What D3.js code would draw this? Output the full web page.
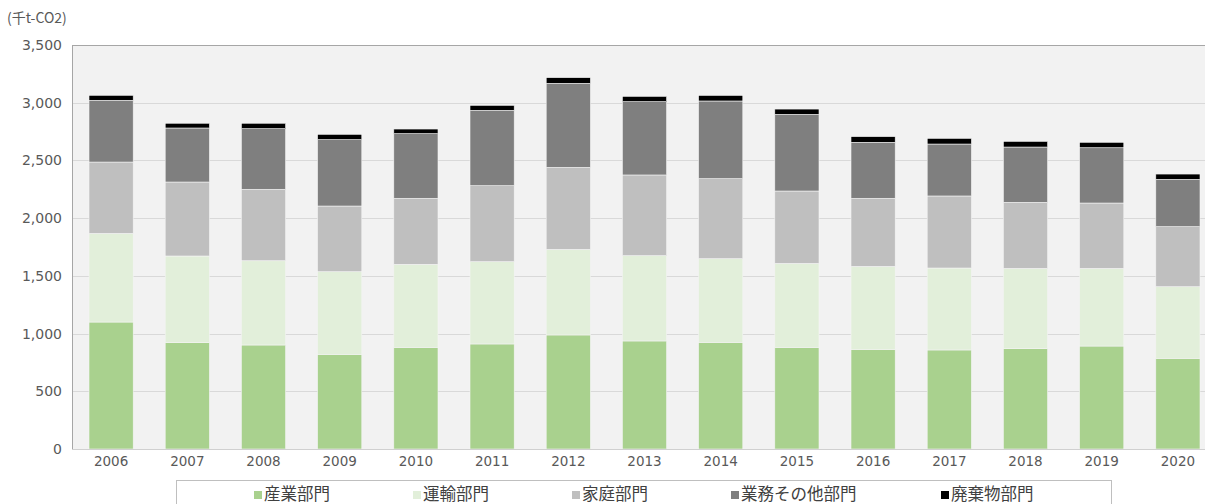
<!DOCTYPE html>
<html><head><meta charset="utf-8">
<script src="https://cdn.jsdelivr.net/npm/d3@7"></script>
<style>
html,body{margin:0;padding:0;background:#fff;overflow:hidden;}
svg{display:block;font-family:"Noto Sans CJK JP","Noto Sans",sans-serif;}
</style></head>
<body>
<svg id="chart" width="1205" height="504"></svg>
<script>
const years = ["2006","2007","2008","2009","2010","2011","2012","2013","2014","2015","2016","2017","2018","2019","2020"];
const seriesNames = ["産業部門","運輸部門","家庭部門","業務その他部門","廃棄物部門"];
const industry  = [1100, 921, 901, 820, 881, 910, 988, 936, 924, 881, 863, 858, 869, 892, 786];
const transport = [ 768, 751, 730, 716, 719, 713, 742, 739, 725, 727, 719, 710, 696, 673, 620];
const household = [ 618, 641, 619, 569, 572, 658, 710, 699, 693, 627, 590, 624, 572, 566, 520];
const business  = [ 535, 468, 525, 575, 560, 653, 728, 635, 673, 664, 485, 450, 479, 479, 410];
const waste     = [  43,  41,  47,  46,  40,  43,  49,  46,  48,  46,  49,  49,  49,  47,  46];
const yTicks = [0, 500, 1000, 1500, 2000, 2500, 3000, 3500];
const colors = ["#a9d18e", "#e2efda", "#bfbfbf", "#7f7f7f", "#000000"];

const table = years.map((y, i) => ({
  year: y, s0: industry[i], s1: transport[i], s2: household[i], s3: business[i], s4: waste[i]
}));
const keys = ["s0","s1","s2","s3","s4"];
const stacked = d3.stack().keys(keys)(table);

const svg = d3.select("#chart");
const pL = 72, pR = 1216, pT = 45, pB = 449;

const x = d3.scaleBand().domain(years).range([pL + 1, pR]).paddingInner(0.42).paddingOuter(0.21);
const y = d3.scaleLinear().domain([0, 3500]).range([pB, pT]);

// plot background
svg.append("rect").attr("x", pL).attr("y", pT).attr("width", pR - pL).attr("height", pB - pT)
  .attr("fill", "#f2f2f2");

// gridlines
svg.append("g").selectAll("line").data(yTicks.filter(t => t > 0)).join("line")
  .attr("x1", pL).attr("x2", pR)
  .attr("y1", d => Math.round(y(d)) + 0.5).attr("y2", d => Math.round(y(d)) + 0.5)
  .attr("stroke", d => d === 3500 ? "#a6a6a6" : "#d9d9d9").attr("stroke-width", 1);

// left border
svg.append("line").attr("x1", pL + 0.5).attr("x2", pL + 0.5).attr("y1", pT).attr("y2", pB)
  .attr("stroke", "#a6a6a6");

// bars
svg.append("g").selectAll("g").data(stacked).join("g")
  .attr("fill", (d, i) => colors[i])
  .selectAll("rect").data(d => d).join("rect")
  .attr("x", d => x(d.data.year))
  .attr("width", x.bandwidth())
  .attr("y", d => y(d[1]))
  .attr("height", d => y(d[0]) - y(d[1]))
  .attr("stroke", "#f4f4f4").attr("stroke-width", 0.6);

// x axis line
svg.append("line").attr("x1", pL).attr("x2", pR).attr("y1", pB + 0.5).attr("y2", pB + 0.5)
  .attr("stroke", "#d0d0d0");

// y axis
const yAxis = d3.axisLeft(y).tickValues(yTicks).tickSize(0).tickPadding(10)
  .tickFormat(d3.format(","));
const gy = svg.append("g").attr("transform", `translate(${pL},0)`).call(yAxis);
gy.select(".domain").remove();
gy.selectAll("text").attr("fill", "#595959").attr("font-size", 14)
  .attr("font-family", "'DejaVu Sans', sans-serif");

// x axis
const xAxis = d3.axisBottom(x).tickSize(0).tickPadding(7);
const gx = svg.append("g").attr("transform", `translate(0,${pB})`).call(xAxis);
gx.select(".domain").remove();
gx.selectAll("text").attr("fill", "#595959").attr("font-size", 13.5)
  .attr("font-family", "'DejaVu Sans', sans-serif");

// unit label
svg.append("text").attr("x", 7).attr("y", 23).attr("font-size", 14).attr("fill", "#595959")
  .text("(千t-CO2)");

// legend
svg.append("rect").attr("x", 176.5).attr("y", 480.5).attr("width", 935).attr("height", 40)
  .attr("fill", "#fff").attr("stroke", "#bfbfbf");
const legX = [254, 413, 572, 731, 941];
const lg = svg.append("g").selectAll("g").data(seriesNames).join("g")
  .attr("transform", (d, i) => `translate(${legX[i]},0)`);
lg.append("rect").attr("x", 0).attr("y", 491).attr("width", 8).attr("height", 8)
  .attr("fill", (d, i) => colors[i]);
lg.append("text").attr("x", 10).attr("y", 500).attr("font-size", 16.5).attr("fill", "#404040")
  .text(d => d);
</script>
</body></html>
